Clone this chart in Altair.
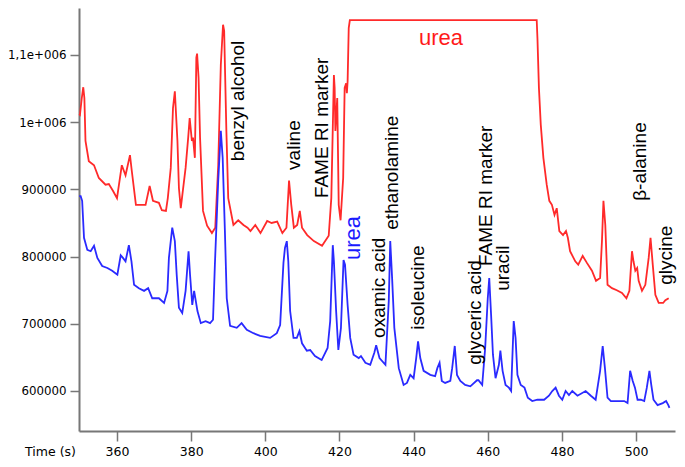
import altair as alt
import pandas as pd

# Red chromatogram (time s, intensity in thousands)
red_t = [349.8, 350.0, 350.5, 350.9, 351.2, 351.5, 352.4, 353.8, 355.1, 356.9, 357.8, 358.9, 360.0,
         361.3, 362.3, 363.5, 364.0, 365.1, 366.4, 367.7, 368.8, 369.7, 371.3, 372.1, 373.2, 373.7,
         374.5, 375.1, 375.6, 376.3, 376.7, 377.2, 378.5, 379.2, 379.6, 380.2, 380.5, 381.0, 381.4,
         381.6, 382.0, 382.4, 383.2, 384.3, 385.6, 386.5, 387.3, 388.0, 388.6, 388.9, 389.5, 390.0,
         391.4, 392.7, 394.1, 395.2, 396.0, 397.3, 398.7, 400.5, 401.7, 403.2, 404.6, 405.7, 406.4,
         407.0, 407.7, 408.6, 409.3, 409.9, 411.3, 413.1, 415.3, 417.1, 417.8, 418.5, 418.7, 418.9,
         419.4, 419.8, 420.3, 421.0, 421.4, 421.8, 422.0, 422.2, 422.5, 422.8, 473.2, 473.4, 473.8,
         474.3, 475.0, 475.9, 476.6, 477.3, 478.0, 478.6, 479.3, 480.3, 481.1, 481.6, 482.2, 483.6,
         484.4, 485.6, 486.7, 488.1, 489.2, 490.3, 490.8, 491.2, 491.7, 492.3, 493.5, 494.8, 496.2,
         497.4, 498.2, 498.9, 499.3, 499.8, 500.3, 500.7, 501.6, 502.5, 503.4, 503.9, 504.5, 505.2,
         506.1, 507.3, 507.9, 508.8]
red_v = [1012, 1011, 1036, 1052, 1036, 972, 942, 936, 917, 907, 908, 898, 887,
         936, 921, 951, 927, 877, 877, 877, 905, 883, 880, 869, 868, 887,
         932, 1021, 1046, 972, 902, 872, 932, 977, 1006, 972, 977, 947, 1096,
         1102, 1066, 977, 868, 846, 835, 843, 936, 1085, 1145, 1136, 987, 887,
         847, 854, 847, 843, 838, 847, 835, 853, 850, 852, 835, 843, 913,
         877, 843, 847, 868, 843, 832, 823, 816, 831, 887, 1070, 1051, 987,
         1036, 877, 854, 917, 1051, 1058, 1043, 1061, 1140, 1152, 1152, 1125, 1051,
         996, 947, 907, 883, 877, 862, 872, 838, 832, 838, 828, 808, 793,
         788, 801, 791, 779, 764, 768, 823, 883, 847, 758, 753, 750, 746,
         738, 749, 808, 793, 779, 783, 764, 749, 758, 798, 828, 788, 743,
         731, 731, 735, 738]

# Blue chromatogram
blue_t = [349.8, 350.2, 350.6, 351.1, 352.0, 352.9, 353.8, 354.7, 356.0, 357.4, 358.7, 360.1, 361.0,
          361.6, 362.3, 363.2, 363.9, 364.6, 365.9, 367.3, 368.4, 369.5, 371.3, 372.7, 373.6, 374.0,
          374.9, 375.6, 376.1, 376.7, 377.6, 378.5, 379.3, 379.7, 380.3, 380.8, 381.7, 382.6, 383.9,
          385.1, 385.9, 386.4, 387.3, 388.0, 388.5, 389.1, 389.6, 390.5, 392.3, 393.6, 395.0, 396.8,
          398.6, 401.3, 403.1, 404.0, 404.9, 405.3, 405.8, 406.2, 406.7, 407.6, 408.5, 409.2, 409.9,
          411.2, 412.1, 413.4, 415.2, 416.8, 417.5, 418.2, 418.5, 419.1, 419.7, 420.4, 421.1, 421.5,
          422.2, 422.9, 423.8, 425.2, 425.8, 427.0, 428.3, 429.4, 429.9, 430.8, 432.4, 433.3, 433.7,
          434.2, 434.8, 436.0, 437.3, 438.2, 439.1, 440.0, 440.7, 441.2, 441.8, 442.7, 444.5, 445.8,
          446.4, 447.0, 447.6, 448.5, 449.9, 450.4, 451.1, 451.7, 452.6, 453.9, 455.3, 457.1, 457.5,
          458.5, 459.3, 460.0, 460.4, 460.9, 461.4, 462.1, 463.0, 463.4, 464.0, 464.8, 465.7, 466.3,
          467.0, 467.5, 468.0, 468.9, 469.9, 470.8, 472.0, 473.4, 475.2, 476.5, 477.4, 478.3, 479.2,
          480.1, 481.0, 481.9, 482.8, 484.2, 486.4, 487.8, 489.1, 490.3, 491.0, 491.6, 492.3, 493.2,
          495.0, 496.8, 497.7, 498.4, 499.1, 499.7, 500.4, 501.3, 502.2, 502.9, 503.6, 504.1, 504.7,
          505.8, 507.2, 508.1, 508.7, 509.0]
blue_v = [890, 890, 883, 828, 810, 808, 816, 798, 786, 783, 779, 773, 802,
          798, 793, 817, 793, 758, 753, 749, 753, 738, 738, 731, 749, 798,
          843, 823, 773, 724, 716, 749, 808, 773, 728, 749, 719, 701, 704,
          701, 706, 788, 913, 987, 947, 838, 738, 697, 694, 701, 691, 686,
          682, 679, 686, 698, 791, 813, 823, 793, 719, 679, 679, 689, 671,
          660, 661, 652, 646, 664, 704, 817, 793, 719, 661, 694, 795, 788,
          728, 679, 654, 649, 652, 642, 639, 657, 668, 649, 639, 734, 823,
          768, 694, 634, 609, 612, 624, 619, 649, 674, 649, 630, 624, 622,
          634, 642, 615, 612, 615, 634, 667, 624, 615, 609, 607, 616, 616,
          609, 664, 738, 768, 713, 654, 619, 639, 660, 630, 609, 605, 600,
          704, 679, 624, 609, 605, 590, 585, 587, 587, 593, 600, 605, 593,
          587, 600, 594, 600, 593, 600, 593, 587, 630, 667, 634, 590, 585,
          585, 585, 582, 630, 615, 605, 587, 587, 585, 605, 630, 609, 587,
          579, 582, 585, 579, 575]

# Peak labels (rotated), anchored at the bottom of each label
lab_text = ["benzyl alcohol", "valine", "FAME RI marker", "oxamic acid", "ethanolamine",
            "isoleucine", "glyceric acid", "FAME RI marker", "uracil", "β-alanine", "glycine"]
lab_t = [392.5, 407.8, 415.2, 430.7, 434.1, 441.1, 456.6, 459.6, 464.0, 501.1, 508.0]
lab_v = [942, 929, 887, 679, 840, 691, 639, 786, 749, 883, 758]

# urea labels
urea_blue = {"text": "urea", "t": 423.7, "v": 795}
urea_red = {"text": "urea", "t": 447.4, "v": 1125}

red_df = pd.DataFrame({"t": red_t, "v": [x * 1000 for x in red_v]})
blue_df = pd.DataFrame({"t": blue_t, "v": [x * 1000 for x in blue_v]})
lab_df = pd.DataFrame({"text": lab_text, "t": lab_t, "v": [x * 1000 for x in lab_v]})
ub_df = pd.DataFrame({"text": [urea_blue["text"]], "t": [urea_blue["t"]], "v": [urea_blue["v"] * 1000]})
ur_df = pd.DataFrame({"text": [urea_red["text"]], "t": [urea_red["t"]], "v": [urea_red["v"] * 1000]})

xscale = alt.Scale(domain=[349.75, 510.5], nice=False, zero=False)
yscale = alt.Scale(domain=[540480, 1169900], nice=False, zero=False)

xaxis = alt.Axis(values=[360, 380, 400, 420, 440, 460, 480, 500], title="Time (s)",
                 titleX=-29, titleY=24, titleAlign="center", titleBaseline="alphabetic",
                 titleFont="DejaVu Sans", titleFontWeight="normal", titleFontSize=12.5,
                 titleColor="black", labelPadding=4, tickSize=10)
yaxis = alt.Axis(values=[600000, 700000, 800000, 900000, 1000000, 1100000], title=None,
                 labelExpr="datum.value == 1100000 ? '1,1e+006' : (datum.value == 1000000 ? '1e+006' : format(datum.value, 'd'))",
                 labelPadding=4, tickSize=9, labelFontSize=11.8)

red = alt.Chart(red_df).mark_line(color="#ff2a2a", strokeWidth=1.8).encode(
    x=alt.X("t:Q", scale=xscale, axis=xaxis),
    y=alt.Y("v:Q", scale=yscale, axis=yaxis),
)
blue = alt.Chart(blue_df).mark_line(color="#2a2aff", strokeWidth=1.8).encode(
    x=alt.X("t:Q", scale=xscale),
    y=alt.Y("v:Q", scale=yscale),
)
labels = alt.Chart(lab_df).mark_text(angle=270, align="left", baseline="middle",
                                     font="Liberation Sans", fontSize=19, color="black").encode(
    x="t:Q", y="v:Q", text="text:N")
ub = alt.Chart(ub_df).mark_text(angle=270, align="left", baseline="middle",
                                font="Liberation Sans", fontSize=22, color="#1a1aff").encode(
    x="t:Q", y="v:Q", text="text:N")
ur = alt.Chart(ur_df).mark_text(align="center", baseline="middle",
                                font="Liberation Sans", fontSize=22, color="#ff1a1a").encode(
    x="t:Q", y="v:Q", text="text:N")

chart = alt.layer(red, blue, labels, ub, ur).properties(
    width=596, height=423,
    autosize=alt.AutoSizeParams(type="none"),
    padding={"left": 71, "top": 0, "right": 2, "bottom": 28},
).configure_view(stroke=None).configure_axis(
    grid=False, domainColor="#777777", domainWidth=2, tickColor="#777777", tickWidth=1.5,
    labelFont="DejaVu Sans", labelFontSize=12.5, labelColor="black",
)

chart.save("out.html", embed_options={"renderer": "svg", "actions": False})
